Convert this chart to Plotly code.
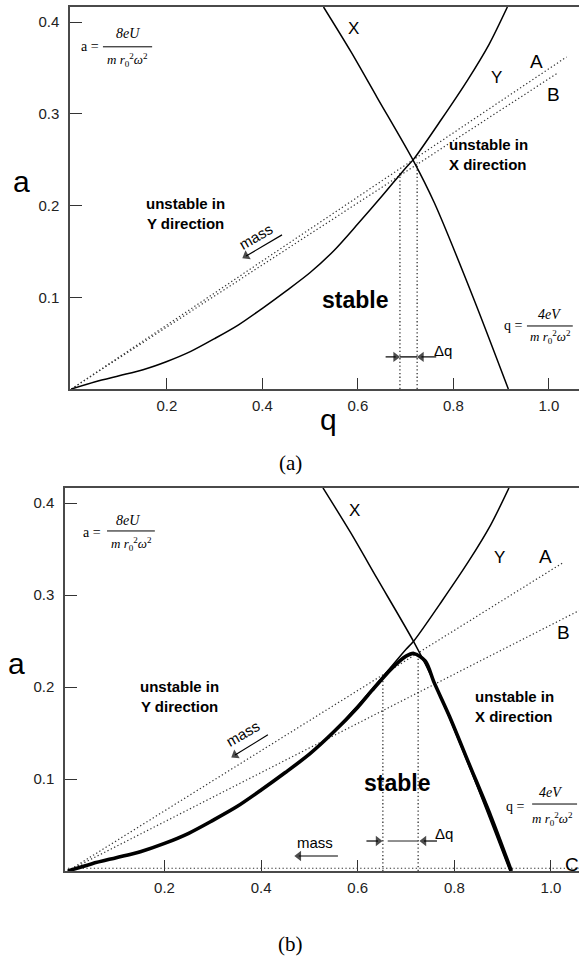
import plotly.graph_objects as go

# ---------------- data ----------------
# thin stability boundaries (q, a)
x_bound_q = [0.528, 0.585, 0.640, 0.716, 0.760, 0.842, 0.915]
x_bound_a = [0.4164, 0.368, 0.318, 0.249, 0.203, 0.099, 0.0]
y_bound_q = [0.0, 0.05, 0.10, 0.15, 0.20, 0.25, 0.30, 0.35, 0.40, 0.45, 0.50, 0.55, 0.60, 0.65,
             0.70, 0.716, 0.775, 0.830, 0.875, 0.913]
y_bound_a = [0.0, 0.008, 0.0145, 0.021, 0.030, 0.041, 0.055, 0.070, 0.088, 0.107, 0.127, 0.151,
             0.180, 0.210, 0.241, 0.250, 0.294, 0.337, 0.376, 0.4164]

# (a) scan lines
scan_a_top_q, scan_a_top_a = [0.0, 1.037], [0.0, 0.362]
scan_b_top_q, scan_b_top_a = [0.0, 1.020], [0.0, 0.345]
# (a) Delta-q limits
dq_top_q = [0.688, 0.724]
dq_top_a = [0.236, 0.247]

# (b) effective stability region (thick line)
eff_q = [0.0, 0.05, 0.10, 0.15, 0.20, 0.25, 0.30, 0.35, 0.40, 0.45, 0.50, 0.55, 0.60, 0.629,
         0.670, 0.700, 0.716, 0.740, 0.758, 0.790, 0.830, 0.875, 0.918]
eff_a = [0.0, 0.008, 0.0145, 0.021, 0.030, 0.041, 0.055, 0.070, 0.088, 0.107, 0.127, 0.151, 0.178,
         0.196, 0.220, 0.2335, 0.2365, 0.228, 0.205, 0.168, 0.117, 0.060, 0.0]

# (b) scan lines
scan_a_bot_q, scan_a_bot_a = [0.0, 1.026], [0.0, 0.3355]
scan_b_bot_q, scan_b_bot_a = [0.0, 1.058], [0.0, 0.283]
scan_c_bot_q, scan_c_bot_a = [0.0, 1.058], [0.003, 0.003]
# (b) Delta-q limits
dq_bot_q = [0.652, 0.725]
dq_bot_a = [0.213, 0.235]

q_ticks = [0.2, 0.4, 0.6, 0.8, 1.0]
q_tick_text = ["0.2", "0.4", "0.6", "0.8", "1.0"]
a_ticks = [0.1, 0.2, 0.3, 0.4]
a_tick_text = ["0.1", "0.2", "0.3", "0.4"]

# ---------------- figure ----------------
W, H = 579, 959
SANS = "Liberation Sans, Arial, sans-serif"
SERIF = "Liberation Serif, Times New Roman, serif"
DOTS = "1.3px,2.4px"

TOP = dict(xaxis="x", yaxis="y")
BOT = dict(xaxis="x2", yaxis="y2")

fig = go.Figure()


def curve(q, a, axes, width=1.5, dash="solid", color="black", shape="spline"):
    fig.add_trace(go.Scatter(x=q, y=a, mode="lines",
                             line=dict(color=color, width=width, dash=dash, shape=shape,
                                       smoothing=0.8),
                             hoverinfo="skip", showlegend=False, **axes))


def vlines(qs, tops, axes):
    for q, top in zip(qs, tops):
        curve([q, q], [0, top], axes, width=1.2, dash=DOTS, color="#222", shape="linear")


def arrow(q_tail, a_tail, q_head, a_head, axes, color="black", size=9):
    # shaft plus a filled triangular head pointing along the shaft
    fig.add_trace(go.Scatter(x=[q_tail, q_head], y=[a_tail, a_head], mode="lines+markers",
                             line=dict(color=color, width=1.2),
                             marker=dict(symbol="triangle-up", size=[0, size], angleref="previous",
                                         color="black", line=dict(width=0)),
                             hoverinfo="skip", showlegend=False, **axes))


# panel (a)
curve(scan_a_top_q, scan_a_top_a, TOP, width=1.2, dash=DOTS, color="#333", shape="linear")
curve(scan_b_top_q, scan_b_top_a, TOP, width=1.2, dash=DOTS, color="#333", shape="linear")
vlines(dq_top_q, dq_top_a, TOP)
curve(x_bound_q, x_bound_a, TOP)
curve(y_bound_q, y_bound_a, TOP)
curve(dq_top_q, [0.035, 0.035], TOP, width=1.3, shape="linear")
arrow(0.441, 0.168, 0.366, 0.145, TOP)
arrow(0.658, 0.035, 0.679, 0.035, TOP)
arrow(0.764, 0.035, 0.733, 0.035, TOP)

# panel (b)
curve(scan_a_bot_q, scan_a_bot_a, BOT, width=1.2, dash=DOTS, color="#333", shape="linear")
curve(scan_b_bot_q, scan_b_bot_a, BOT, width=1.2, dash=DOTS, color="#333", shape="linear")
curve(scan_c_bot_q, scan_c_bot_a, BOT, width=1.2, dash=DOTS, color="#333", shape="linear")
vlines(dq_bot_q, dq_bot_a, BOT)
curve(x_bound_q, x_bound_a, BOT)
curve(y_bound_q, y_bound_a, BOT)
curve(eff_q, eff_a, BOT, width=3.6)
curve([dq_bot_q[0] + 0.01, dq_bot_q[1]], [0.0326, 0.0326], BOT, width=1.3, color="#555", shape="linear")
arrow(0.414, 0.148, 0.346, 0.126, BOT)
arrow(0.559, 0.0163, 0.478, 0.0163, BOT)
arrow(0.618, 0.0326, 0.642, 0.0326, BOT)
arrow(0.764, 0.0326, 0.737, 0.0326, BOT)

annotations = []


def text(s, q, a, panel, size, family=SANS, bold=False, xanchor="center", angle=0, align="center"):
    xr, yr = ("x", "y") if panel == 0 else ("x2", "y2")
    if bold:
        s = "<b>" + s.replace("<br>", "</b><br><b>") + "</b>"
    annotations.append(dict(x=q, y=a, xref=xr, yref=yr, text=s, showarrow=False,
                            xanchor=xanchor, yanchor="middle", textangle=angle, align=align,
                            font=dict(family=family, size=size, color="black")))


def paper(s, px, py, size, family=SANS):
    annotations.append(dict(x=px / W, y=1 - py / H, xref="paper", yref="paper", text=s,
                            showarrow=False, xanchor="center", yanchor="middle",
                            font=dict(family=family, size=size, color="black")))


shapes = []


def frac_line(q0, q1, a, panel):
    xr, yr = ("x", "y") if panel == 0 else ("x2", "y2")
    shapes.append(dict(type="line", x0=q0, x1=q1, y0=a, y1=a, xref=xr, yref=yr,
                       line=dict(color="black", width=1)))


DENOM = "<i>m r</i><sub>0</sub><sup>2</sup><i>ω</i><sup>2</sup>"

# panel (a) labels
text("X", 0.590, 0.393, 0, 17)
text("Y", 0.891, 0.340, 0, 17)
text("A", 0.975, 0.357, 0, 19)
text("B", 1.009, 0.321, 0, 19)
text("unstable in<br>X direction", 0.787, 0.256, 0, 15, bold=True, xanchor="left", align="left")
text("unstable in<br>Y direction", 0.238, 0.191, 0, 15, bold=True)
text("stable", 0.594, 0.097, 0, 23, bold=True)
text("mass", 0.386, 0.166, 0, 15, angle=-30)
text("Δq", 0.755, 0.0415, 0, 15, xanchor="left")
text("a =", 0.039, 0.373, 0, 14, family=SERIF)
text("<i>8eU</i>", 0.119, 0.388, 0, 14, family=SERIF)
text(DENOM, 0.118, 0.359, 0, 13, family=SERIF)
frac_line(0.066, 0.169, 0.373, 0)
text("q =", 0.925, 0.0687, 0, 14, family=SERIF)
text("<i>4eV</i>", 1.002, 0.0807, 0, 14, family=SERIF)
text(DENOM, 1.003, 0.0569, 0, 13, family=SERIF)
frac_line(0.954, 1.050, 0.0687, 0)

# panel (b) labels
text("X", 0.594, 0.392, 1, 17)
text("Y", 0.894, 0.341, 1, 17)
text("A", 0.988, 0.342, 1, 19)
text("B", 1.025, 0.259, 1, 19)
text("C", 1.043, 0.0075, 1, 19)
text("unstable in<br>X direction", 0.839, 0.179, 1, 15, bold=True, xanchor="left", align="left")
text("unstable in<br>Y direction", 0.232, 0.190, 1, 15, bold=True)
text("stable", 0.681, 0.0957, 1, 23, bold=True)
text("mass", 0.362, 0.149, 1, 15, angle=-30)
text("mass", 0.511, 0.031, 1, 15)
text("Δq", 0.756, 0.041, 1, 15, xanchor="left")
text("M", 0.694, -0.029, 1, 22)
text("N", 0.936, -0.029, 1, 22)
text("q", 0.538, -0.031, 1, 30)
text("a =", 0.050, 0.368, 1, 14, family=SERIF)
text("<i>8eU</i>", 0.124, 0.3815, 1, 14, family=SERIF)
text(DENOM, 0.131, 0.3556, 1, 13, family=SERIF)
frac_line(0.081, 0.180, 0.3696, 1)
text("q =", 0.927, 0.0696, 1, 14, family=SERIF)
text("<i>4eV</i>", 0.998, 0.0848, 1, 14, family=SERIF)
text(DENOM, 1.004, 0.0567, 1, 13, family=SERIF)
frac_line(0.961, 1.054, 0.0728, 1)

# axis titles and panel captions
paper("a", 21, 181, 30)
paper("q", 328, 419, 30)
paper("a", 16, 663, 30)
paper("(a)", 290, 463, 21, family=SERIF)
paper("(b)", 290, 944, 21, family=SERIF)

axis_common = dict(showline=True, linecolor="#4a4a4a", linewidth=1.5, ticks="inside",
                   tickwidth=1.2, tickcolor="#333", showgrid=False, zeroline=False,
                   tickfont=dict(family=SANS, size=15, color="#222"))

fig.update_layout(
    width=W, height=H, margin=dict(l=0, r=0, t=0, b=0),
    plot_bgcolor="white", paper_bgcolor="white", showlegend=False,
    xaxis=dict(domain=[70 / W, 1], range=[-0.003, 1.063], anchor="y", mirror=True,
               tickvals=q_ticks, ticktext=q_tick_text, ticklen=11, ticklabelstandoff=2, **axis_common),
    yaxis=dict(domain=[1 - 389 / H, 1 - 7 / H], range=[0, 0.4164], anchor="x",
               tickvals=a_ticks, ticktext=a_tick_text, ticklen=12, ticklabelstandoff=6, **axis_common),
    xaxis2=dict(domain=[65 / W, 1], range=[-0.006, 1.058], anchor="y2", mirror=True,
                tickvals=q_ticks, ticktext=q_tick_text, ticklen=11, ticklabelstandoff=2, **axis_common),
    yaxis2=dict(domain=[1 - 871 / H, 1 - 488 / H], range=[0, 0.4163], anchor="x2",
                tickvals=a_ticks, ticktext=a_tick_text, ticklen=12, ticklabelstandoff=6, **axis_common),
    annotations=annotations,
    shapes=shapes,
)

fig.write_html("out.html")
